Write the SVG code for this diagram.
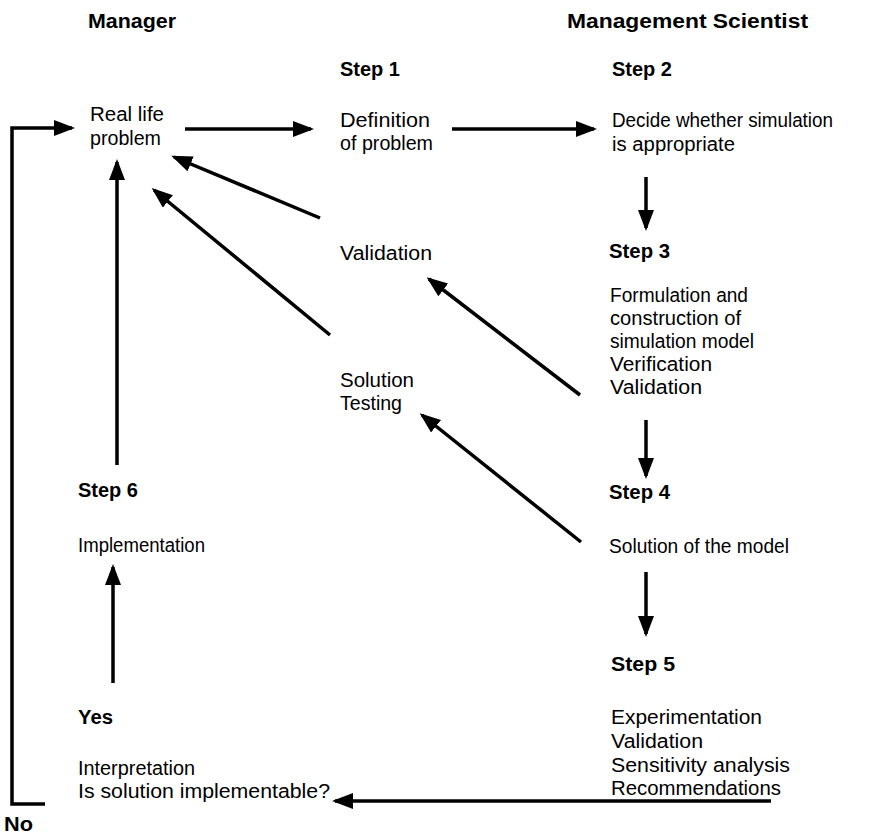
<svg xmlns="http://www.w3.org/2000/svg" width="870" height="839" viewBox="0 0 870 839">
<style>
text{font-family:"Liberation Sans",Arial,sans-serif;fill:#000;}
.t{font-size:20px;}
.b{font-size:20px;font-weight:bold;}
.c{fill:none;stroke:#000;stroke-width:3.5;}
</style>
<defs>
<marker id="ah" markerUnits="userSpaceOnUse" markerWidth="22" markerHeight="18" refX="18" refY="8" orient="auto">
<path d="M0,0 L21,8 L0,16 z" fill="#000"/>
</marker>
</defs>
<rect width="870" height="839" fill="#fff"/>
<g id="headers">
<text class="b" x="88" y="28" textLength="88" lengthAdjust="spacingAndGlyphs">Manager</text>
<text class="b" x="567" y="28" textLength="241" lengthAdjust="spacingAndGlyphs">Management Scientist</text>
</g>
<g id="real-life">
<text class="t" x="90" y="121" textLength="74" lengthAdjust="spacingAndGlyphs">Real life</text>
<text class="t" x="90" y="145" textLength="71" lengthAdjust="spacingAndGlyphs">problem</text>
</g>
<g id="step1">
<text class="b" x="340" y="76" textLength="60" lengthAdjust="spacingAndGlyphs">Step 1</text>
<text class="t" x="340" y="127" textLength="90" lengthAdjust="spacingAndGlyphs">Definition</text>
<text class="t" x="340" y="150" textLength="93" lengthAdjust="spacingAndGlyphs">of problem</text>
</g>
<g id="step2">
<text class="b" x="612" y="76" textLength="60" lengthAdjust="spacingAndGlyphs">Step 2</text>
<text class="t" x="612" y="127" textLength="221" lengthAdjust="spacingAndGlyphs">Decide whether simulation</text>
<text class="t" x="612" y="151" textLength="123" lengthAdjust="spacingAndGlyphs">is appropriate</text>
</g>
<g id="validation">
<text class="t" x="340" y="260" textLength="92" lengthAdjust="spacingAndGlyphs">Validation</text>
</g>
<g id="step3">
<text class="b" x="609" y="258" textLength="61" lengthAdjust="spacingAndGlyphs">Step 3</text>
<text class="t" x="610" y="302" textLength="138" lengthAdjust="spacingAndGlyphs">Formulation and</text>
<text class="t" x="610" y="325" textLength="131" lengthAdjust="spacingAndGlyphs">construction of</text>
<text class="t" x="610" y="348" textLength="144" lengthAdjust="spacingAndGlyphs">simulation model</text>
<text class="t" x="610" y="371" textLength="102" lengthAdjust="spacingAndGlyphs">Verification</text>
<text class="t" x="610" y="394" textLength="92" lengthAdjust="spacingAndGlyphs">Validation</text>
</g>
<g id="solution-testing">
<text class="t" x="340" y="387" textLength="74" lengthAdjust="spacingAndGlyphs">Solution</text>
<text class="t" x="340" y="410" textLength="62" lengthAdjust="spacingAndGlyphs">Testing</text>
</g>
<g id="step6">
<text class="b" x="78" y="497" textLength="60" lengthAdjust="spacingAndGlyphs">Step 6</text>
<text class="t" x="78" y="552" textLength="127" lengthAdjust="spacingAndGlyphs">Implementation</text>
</g>
<g id="step4">
<text class="b" x="609" y="499" textLength="61" lengthAdjust="spacingAndGlyphs">Step 4</text>
<text class="t" x="609" y="553" textLength="180" lengthAdjust="spacingAndGlyphs">Solution of the model</text>
</g>
<g id="step5">
<text class="b" x="611" y="671" textLength="64" lengthAdjust="spacingAndGlyphs">Step 5</text>
<text class="t" x="611" y="724" textLength="151" lengthAdjust="spacingAndGlyphs">Experimentation</text>
<text class="t" x="611" y="748" textLength="92" lengthAdjust="spacingAndGlyphs">Validation</text>
<text class="t" x="611" y="772" textLength="179" lengthAdjust="spacingAndGlyphs">Sensitivity analysis</text>
<text class="t" x="611" y="795" textLength="170" lengthAdjust="spacingAndGlyphs">Recommendations</text>
</g>
<g id="interpretation">
<text class="b" x="78" y="724" textLength="35" lengthAdjust="spacingAndGlyphs">Yes</text>
<text class="t" x="78" y="775" textLength="117" lengthAdjust="spacingAndGlyphs">Interpretation</text>
<text class="t" x="78" y="798" textLength="252" lengthAdjust="spacingAndGlyphs">Is solution implementable?</text>
</g>
<g id="no">
<text class="b" x="4" y="831" textLength="29" lengthAdjust="spacingAndGlyphs">No</text>
</g>
<g id="connectors">
<path class="c" d="M45,804 H12 V128 H72" marker-end="url(#ah)"/>
<path class="c" d="M185,129 H311" marker-end="url(#ah)"/>
<path class="c" d="M452,129 H594" marker-end="url(#ah)"/>
<path class="c" d="M646,177 V228" marker-end="url(#ah)"/>
<path class="c" d="M646,420 V476" marker-end="url(#ah)"/>
<path class="c" d="M646,572 V634" marker-end="url(#ah)"/>
<path class="c" d="M771,801 H335" marker-end="url(#ah)"/>
<path class="c" d="M113,683 V567" marker-end="url(#ah)"/>
<path class="c" d="M117,465 V162" marker-end="url(#ah)"/>
<path class="c" d="M320,218 L174,157" marker-end="url(#ah)"/>
<path class="c" d="M330,335 L154,190" marker-end="url(#ah)"/>
<path class="c" d="M580,395 L429,279" marker-end="url(#ah)"/>
<path class="c" d="M581,542 L422,415" marker-end="url(#ah)"/>
</g>
</svg>
